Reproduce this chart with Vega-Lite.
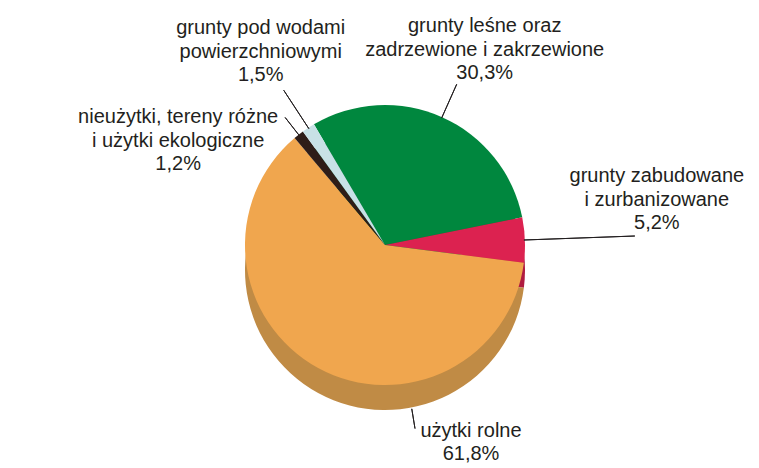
{
  "$schema": "https://vega.github.io/schema/vega-lite/v6.json",
  "width": 748,
  "height": 446,
  "autosize": "none",
  "padding": {"left": 11, "top": 22, "right": 0, "bottom": 0},
  "background": "white",
  "config": {"view": {"stroke": null}, "text": {"font": "Liberation Sans"}},
  "data": {
    "values": [
      {"key": "lesne", "name": "grunty leśne oraz zadrzewione i zakrzewione", "value": 30.3, "order": 1, "label": "grunty leśne oraz\nzadrzewione i zakrzewione\n30,3%"},
      {"key": "zabud", "name": "grunty zabudowane i zurbanizowane", "value": 5.2, "order": 2, "label": "grunty zabudowane\ni zurbanizowane\n5,2%"},
      {"key": "rolne", "name": "użytki rolne", "value": 61.8, "order": 3, "label": "użytki rolne\n61,8%"},
      {"key": "nieuz", "name": "nieużytki, tereny różne i użytki ekologiczne", "value": 1.2, "order": 4, "label": "nieużytki, tereny różne\ni użytki ekologiczne\n1,2%"},
      {"key": "wody", "name": "grunty pod wodami powierzchniowymi", "value": 1.5, "order": 5, "label": "grunty pod wodami\npowierzchniowymi\n1,5%"}
    ]
  },
  "resolve": {"scale": {"color": "independent"}},
  "layer": [
    {
      "mark": {"type": "arc", "radius": 140, "yOffset": 25},
      "encoding": {
        "theta": {"field": "value", "type": "quantitative", "stack": true, "scale": {"domain": [0, 100], "range": [-0.53233, 5.75086]}},
        "order": {"field": "order", "type": "quantitative"},
        "color": {"field": "key", "type": "nominal", "legend": null,
          "scale": {"domain": ["lesne", "zabud", "rolne", "nieuz", "wody"], "range": ["#006a31", "#b01c40", "#c08b45", "#1e1310", "#9fb6bb"]}}
      }
    },
    {
      "mark": {"type": "arc", "radius": 140},
      "encoding": {
        "theta": {"field": "value", "type": "quantitative", "stack": true, "scale": {"domain": [0, 100], "range": [-0.53233, 5.75086]}},
        "order": {"field": "order", "type": "quantitative"},
        "color": {"field": "key", "type": "nominal", "legend": null,
          "scale": {"domain": ["lesne", "zabud", "rolne", "nieuz", "wody"], "range": ["#00873e", "#dc2250", "#f0a64e", "#2e1d18", "#c8e1e6"]}}
      }
    },
    {
      "transform": [{"stack": "value", "groupby": [], "sort": [{"field": "order", "order": "ascending"}], "as": ["v0", "v1"]}, {"filter": "datum.key === 'wody'"}],
      "mark": {"type": "arc", "radius": 185, "radius2": 139, "fill": null, "stroke": "#231f20", "strokeWidth": 1,
        "theta": {"expr": "-0.53233 + 0.0628319*(datum.v0 + 0.5*(datum.v1 - datum.v0))"},
        "theta2": {"expr": "-0.53233 + 0.0628319*(datum.v0 + 0.5*(datum.v1 - datum.v0))"}},
      "encoding": {}
    },
    {
      "transform": [{"stack": "value", "groupby": [], "sort": [{"field": "order", "order": "ascending"}], "as": ["v0", "v1"]}, {"filter": "datum.key === 'nieuz'"}],
      "mark": {"type": "arc", "radius": 162, "radius2": 139, "fill": null, "stroke": "#231f20", "strokeWidth": 1,
        "theta": {"expr": "-0.53233 + 0.0628319*(datum.v0 + 0.5*(datum.v1 - datum.v0))"},
        "theta2": {"expr": "-0.53233 + 0.0628319*(datum.v0 + 0.5*(datum.v1 - datum.v0))"}},
      "encoding": {}
    },
    {
      "transform": [{"stack": "value", "groupby": [], "sort": [{"field": "order", "order": "ascending"}], "as": ["v0", "v1"]}, {"filter": "datum.key === 'lesne'"}],
      "mark": {"type": "arc", "radius": 176, "radius2": 139, "fill": null, "stroke": "#231f20", "strokeWidth": 1,
        "theta": {"expr": "-0.53233 + 0.0628319*(datum.v0 + 0.5*(datum.v1 - datum.v0))"},
        "theta2": {"expr": "-0.53233 + 0.0628319*(datum.v0 + 0.5*(datum.v1 - datum.v0))"}},
      "encoding": {}
    },
    {
      "transform": [{"stack": "value", "groupby": [], "sort": [{"field": "order", "order": "ascending"}], "as": ["v0", "v1"]}, {"filter": "datum.key === 'zabud'"}],
      "mark": {"type": "arc", "radius": 250, "radius2": 139, "fill": null, "stroke": "#231f20", "strokeWidth": 1,
        "theta": {"expr": "-0.53233 + 0.0628319*(datum.v0 + 0.5*(datum.v1 - datum.v0))"},
        "theta2": {"expr": "-0.53233 + 0.0628319*(datum.v0 + 0.5*(datum.v1 - datum.v0))"}},
      "encoding": {}
    },
    {
      "transform": [{"stack": "value", "groupby": [], "sort": [{"field": "order", "order": "ascending"}], "as": ["v0", "v1"]}, {"filter": "datum.key === 'rolne'"}],
      "mark": {"type": "arc", "radius": 186, "radius2": 166, "fill": null, "stroke": "#231f20", "strokeWidth": 1,
        "theta": {"expr": "-0.53233 + 0.0628319*(datum.v0 + 0.33*(datum.v1 - datum.v0))"},
        "theta2": {"expr": "-0.53233 + 0.0628319*(datum.v0 + 0.33*(datum.v1 - datum.v0))"}},
      "encoding": {}
    },
    {
      "transform": [{"stack": "value", "groupby": [], "sort": [{"field": "order", "order": "ascending"}], "as": ["v0", "v1"]}, {"filter": "datum.key === 'wody'"}],
      "mark": {"type": "text", "radius": 185, "dx": -23, "dy": -56, "align": "center", "baseline": "alphabetic", "fontSize": 20, "lineHeight": 23.5, "lineBreak": "\n", "fill": "#231f20",
        "theta": {"expr": "-0.53233 + 0.0628319*(datum.v0 + 0.5*(datum.v1 - datum.v0))"}},
      "encoding": {"text": {"field": "label", "type": "nominal"}}
    },
    {
      "transform": [{"stack": "value", "groupby": [], "sort": [{"field": "order", "order": "ascending"}], "as": ["v0", "v1"]}, {"filter": "datum.key === 'nieuz'"}],
      "mark": {"type": "text", "radius": 162, "dx": -107, "dy": 6, "align": "center", "baseline": "alphabetic", "fontSize": 20, "lineHeight": 23.5, "lineBreak": "\n", "fill": "#231f20",
        "theta": {"expr": "-0.53233 + 0.0628319*(datum.v0 + 0.5*(datum.v1 - datum.v0))"}},
      "encoding": {"text": {"field": "label", "type": "nominal"}}
    },
    {
      "transform": [{"stack": "value", "groupby": [], "sort": [{"field": "order", "order": "ascending"}], "as": ["v0", "v1"]}, {"filter": "datum.key === 'lesne'"}],
      "mark": {"type": "text", "radius": 176, "dx": 28, "dy": -52, "align": "center", "baseline": "alphabetic", "fontSize": 20, "lineHeight": 23.5, "lineBreak": "\n", "fill": "#231f20",
        "theta": {"expr": "-0.53233 + 0.0628319*(datum.v0 + 0.5*(datum.v1 - datum.v0))"}},
      "encoding": {"text": {"field": "label", "type": "nominal"}}
    },
    {
      "transform": [{"stack": "value", "groupby": [], "sort": [{"field": "order", "order": "ascending"}], "as": ["v0", "v1"]}, {"filter": "datum.key === 'zabud'"}],
      "mark": {"type": "text", "radius": 250, "dx": 22, "dy": -54, "align": "center", "baseline": "alphabetic", "fontSize": 20, "lineHeight": 23.5, "lineBreak": "\n", "fill": "#231f20",
        "theta": {"expr": "-0.53233 + 0.0628319*(datum.v0 + 0.5*(datum.v1 - datum.v0))"}},
      "encoding": {"text": {"field": "label", "type": "nominal"}}
    },
    {
      "transform": [{"stack": "value", "groupby": [], "sort": [{"field": "order", "order": "ascending"}], "as": ["v0", "v1"]}, {"filter": "datum.key === 'rolne'"}],
      "mark": {"type": "text", "radius": 186, "dx": 56, "dy": 8, "align": "center", "baseline": "alphabetic", "fontSize": 20, "lineHeight": 23.5, "lineBreak": "\n", "fill": "#231f20",
        "theta": {"expr": "-0.53233 + 0.0628319*(datum.v0 + 0.33*(datum.v1 - datum.v0))"}},
      "encoding": {"text": {"field": "label", "type": "nominal"}}
    }
  ]
}
